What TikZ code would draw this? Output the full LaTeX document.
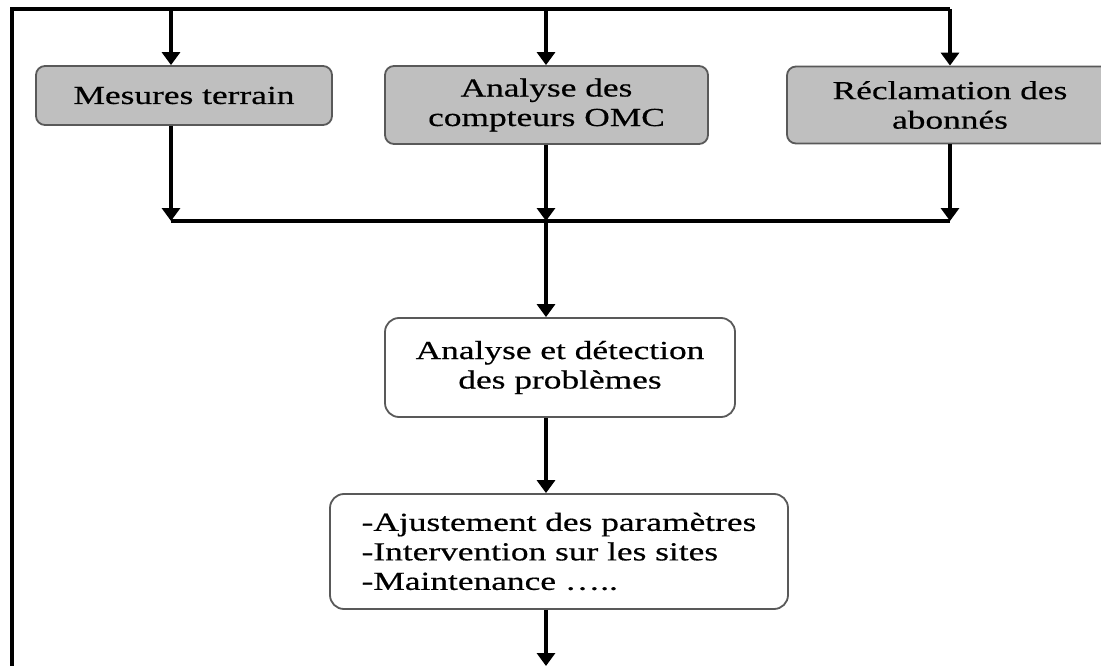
\documentclass[tikz,border=0pt]{standalone}
\usepackage{fontspec}
\setmainfont{Liberation Serif}[FakeStretch=1.36,FakeBold=0.5]
\usetikzlibrary{arrows.meta}
\begin{document}
\begin{tikzpicture}[x=1pt,y=-1pt,
  font=\fontsize{26}{29.5}\selectfont,
  graybox/.style={draw=black!65, line width=1.8pt, fill=black!25, rounded corners=9pt, inner sep=0pt, align=center},
  whitebox/.style={draw=black!65, line width=1.8pt, fill=white, rounded corners=14pt, inner sep=0pt},
  flow/.style={line width=3.4pt},
  arr/.style={line width=3.4pt, -{Triangle[length=13pt,width=18pt]}}]
\useasboundingbox (0,0) rectangle (1101,666);
% boxes
\node[graybox, minimum width=296pt, minimum height=59pt] (b1) at (184,95.5) {Mesures terrain};
\node[graybox, minimum width=323pt, minimum height=78pt] (b2) at (546.5,105) {Analyse des\\compteurs OMC};
\node[graybox, minimum width=326pt, minimum height=77pt] (b3) at (950,105) {Réclamation des\\abonnés};
\node[whitebox, align=center, minimum width=350pt, minimum height=99pt] (b4) at (560,367.5) {Analyse et détection\\des problèmes};
\node[whitebox, align=left, minimum width=458pt, minimum height=115pt] (b5) at (559,551.5) {-Ajustement des paramètres\\-Intervention sur les sites\\-Maintenance …..};
% coordinates
\coordinate (bl) at (12,666);
\coordinate (tl) at (12,9);
\coordinate (t1) at (171,9);
\coordinate (t2) at (546,9);
\coordinate (t3) at (950,9);
\coordinate (m1) at (171,221);
\coordinate (m2) at (546,221);
\coordinate (m3) at (950,221);
\coordinate (e) at (546,666);
% top feedback line
\draw[flow] (bl) -- (tl) -- (t3);
\draw[arr] (t1) -- (t1 |- b1.north);
\draw[arr] (t2) -- (t2 |- b2.north);
\draw[arr] (t3) -- (t3 |- b3.north);
% merge
\draw[arr] (m1 |- b1.south) -- (m1);
\draw[arr] (m2 |- b2.south) -- (m2);
\draw[arr] (m3 |- b3.south) -- (m3);
\draw[flow] (m1) -- (m3);
\draw[arr] (m2) -- (m2 |- b4.north);
\draw[arr] (m2 |- b4.south) -- (m2 |- b5.north);
\draw[arr] (m2 |- b5.south) -- (e);
\end{tikzpicture}
\end{document}
